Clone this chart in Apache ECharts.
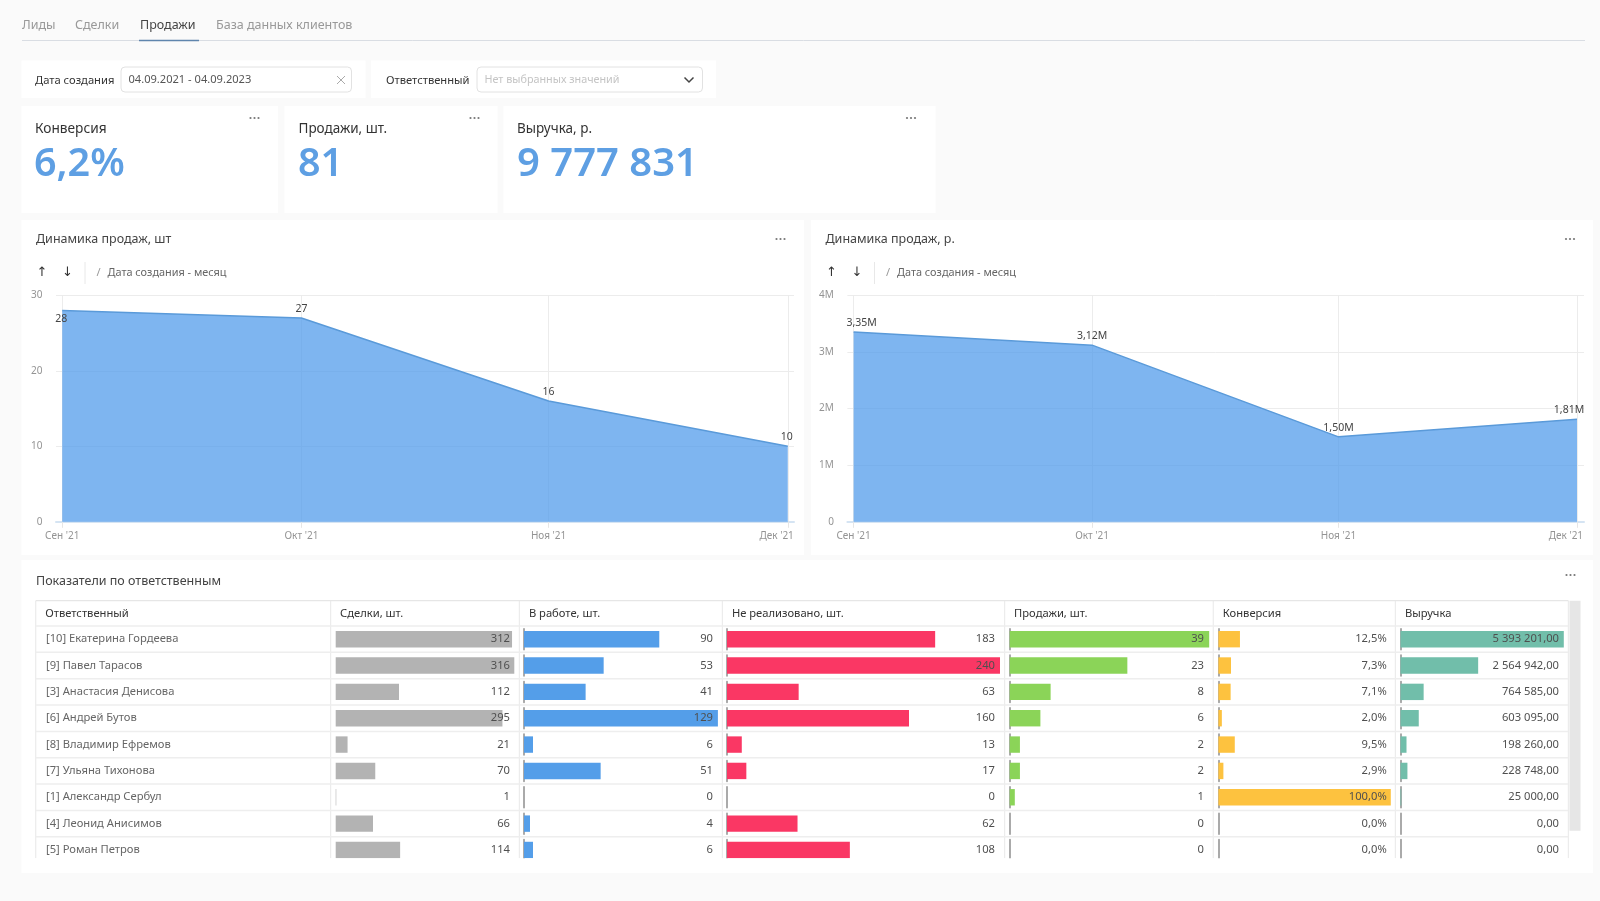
<!DOCTYPE html>
<html>
<head>
    <meta charset="utf-8">
    <title>Продажи</title>
    <script type="text/javascript" src="https://cdn.jsdelivr.net/npm/echarts@6/dist/echarts.min.js"></script>
    <style>
        html, body { margin: 0; padding: 0; background: #fafafa; }
    </style>
</head>
<body>
<div id="main" style="width: 1600px;height:901px;"></div>
<script type="text/javascript">
    // данные графиков
    var monthDays = [0, 30, 61, 91];
    var monthLabels = ["Сен '21", "Окт '21", "Ноя '21", "Дек '21"];
    var salesByMonth = [28, 27, 16, 10];
    var revenueByMonth = [3350000, 3120000, 1500000, 1810000];

    // данные таблицы
    var names = ['[10] Екатерина Гордеева', '[9] Павел Тарасов', '[3] Анастасия Денисова', '[6] Андрей Бутов',
        '[8] Владимир Ефремов', '[7] Ульяна Тихонова', '[1] Александр Сербул', '[4] Леонид Анисимов', '[5] Роман Петров'];
    var deals = [312, 316, 112, 295, 21, 70, 1, 66, 114];
    var inWork = [90, 53, 41, 129, 6, 51, 0, 4, 6];
    var notRealized = [183, 240, 63, 160, 13, 17, 0, 62, 108];
    var sales = [39, 23, 8, 6, 2, 2, 1, 0, 0];
    var conversion = [12.5, 7.3, 7.1, 2.0, 9.5, 2.9, 100, 0, 0];
    var revenue = [5393201, 2564942, 764585, 603095, 198260, 228748, 25000, 0, 0];
    var headers = ['Ответственный', 'Сделки, шт.', 'В работе, шт.', 'Не реализовано, шт.', 'Продажи, шт.', 'Конверсия', 'Выручка'];

    var FONT = '"Noto Sans", sans-serif';
    var ROW = 26.35;
    var TABLE_TOP = 626;
    var myChart = echarts.init(document.getElementById('main'));

    function spaced(v) {
        return String(v).replace(/\B(?=(\d{3})+(?!\d))/g, ' ');
    }

    // оформление дашборда: карточки, подписи, фильтры
    var g = [];
    function rect(x, y, w, h, fill, stroke, r, z) {
        g.push({type: 'rect', z: z === undefined ? -1 : z, silent: true,
            shape: {x: x, y: y, width: w, height: h, r: r || 0},
            style: {fill: fill, stroke: stroke || null, lineWidth: 1}});
    }
    function line(x1, y1, x2, y2, color, width) {
        g.push({type: 'line', z: 0, silent: true, shape: {x1: x1, y1: y1, x2: x2, y2: y2},
            style: {stroke: color, lineWidth: width || 1}});
    }
    function text(x, y, s, size, color, weight, family) {
        g.push({type: 'text', z: 6, silent: true, x: x, y: y,
            style: {text: s, fill: color, fontSize: size, fontWeight: weight || 400, fontFamily: family || FONT,
                verticalAlign: 'middle', align: 'left'}});
    }
    function dots(x, y) {
        [-4, 0, 4].forEach(function (d) {
            g.push({type: 'circle', z: 6, silent: true, shape: {cx: x + d, cy: y, r: 1.1}, style: {fill: '#777'}});
        });
    }

    // вкладки
    text(22, 25.5, 'Лиды', 12.5, '#999');
    text(75, 25.5, 'Сделки', 12.5, '#999');
    text(140, 25.5, 'Продажи', 12.5, '#444');
    text(216, 25.5, 'База данных клиентов', 12.5, '#999');
    line(22, 40.5, 1585, 40.5, '#d9dde3');
    line(139, 40.5, 199, 40.5, '#5f85ad', 1.5);

    // фильтры
    rect(21.5, 60.5, 344, 37.5, '#fff');
    rect(371, 60.5, 345, 37.5, '#fff');
    text(35, 80.5, 'Дата создания', 11.2, '#333');
    rect(121, 67, 230.5, 25, '#fff', '#e2e2e2', 4);
    text(128.5, 80, '04.09.2021 - 04.09.2023', 11.1, '#555');
    line(337, 76, 345, 84, '#aaa');
    line(345, 76, 337, 84, '#aaa');
    text(386, 80.5, 'Ответственный', 11.2, '#333');
    rect(477, 67, 225.5, 25, '#fff', '#e2e2e2', 4);
    text(484.5, 79.5, 'Нет выбранных значений', 10.8, '#c4c4c4');
    g.push({type: 'polyline', z: 6, silent: true, shape: {points: [[684.5, 77.5], [689, 82], [693.5, 77.5]]},
        style: {stroke: '#444', fill: null, lineWidth: 1.5}});

    // показатели
    rect(21.5, 106, 256.5, 107, '#fff');
    rect(284.5, 106, 213, 107, '#fff');
    rect(503.5, 106, 432, 107, '#fff');
    text(35, 129, 'Конверсия', 13.7, '#333');
    text(298.5, 129, 'Продажи, шт.', 13.5, '#333');
    text(517, 129, 'Выручка, р.', 13.5, '#333');
    text(34, 165, '6,2%', 39.5, '#5e9fe3', 600);
    text(298, 165, '81', 39.5, '#5e9fe3', 600);
    text(517, 165, spaced(9777831), 40, '#5e9fe3', 600);
    dots(254.5, 118);
    dots(474.5, 118);
    dots(911, 118);

    // карточки графиков
    function chartCard(x, w, title, dotX) {
        rect(x, 220, w, 335, '#fff');
        text(x + 14.5, 239.5, title, 12.5, '#444');
        dots(dotX, 239);
        g.push({type: 'text', z: 6, silent: true, x: x + 20.5, y: 272.5, style: {text: '↑', fill: '#333', fontSize: 13,
            fontFamily: 'DejaVu Sans', align: 'center', verticalAlign: 'middle'}});
        g.push({type: 'text', z: 6, silent: true, x: x + 46, y: 272.5, style: {text: '↓', fill: '#333', fontSize: 13,
            fontFamily: 'DejaVu Sans', align: 'center', verticalAlign: 'middle'}});
        line(x + 63.5, 262, x + 63.5, 284, '#e8e8e8');
        text(x + 75, 273, '/', 11, '#999');
        text(x + 86, 273, 'Дата создания - месяц', 10.9, '#666');
    }
    chartCard(21.5, 782.5, 'Динамика продаж, шт', 780.5);
    chartCard(811, 782, 'Динамика продаж, р.', 1570);

    // таблица
    rect(21.5, 560, 1571.5, 313, '#fff');
    text(36, 581, 'Показатели по ответственным', 12.5, '#444');
    dots(1570.5, 575);
    var colX = [35.7, 330.6, 519.4, 722.4, 1004.6, 1213.3, 1395.4, 1568.4];
    colX.forEach(function (x) {
        line(x, 600.7, x, 858.3, '#ececec', 1.2);
    });
    line(35.7, 600.7, 1568.4, 600.7, '#e6e6e6', 1.2);
    for (var i = 0; i < names.length; i++) {
        line(35.7, TABLE_TOP + i * ROW, 1568.4, TABLE_TOP + i * ROW, '#eeeeee', 1.5);
    }
    headers.forEach(function (h, idx) {
        text(colX[idx] + 9.5, 613.5, h, 11.2, '#333');
    });
    rect(1569.5, 600.7, 11, 230, '#e6e6e6', null, 0, 0);
    rect(22, 858.3, 1570, 14.5, '#fff', null, 0, 20);

    // сетки, оси и серии
    var grids = [], xAxes = [], yAxes = [], series = [];

    function addLineChart(left, right, extL, extR, maxV, interval, values, labelFn, yFormat, firstPos, offsets) {
        var gi = grids.length;
        grids.push({left: left, width: right - left, top: 295.3, height: 226.5});
        var labelDays = monthDays.slice();
        labelDays[3] = 89.6;
        xAxes.push({
            gridIndex: gi, type: 'value', min: -extL, max: 91 + extR,
            axisLine: {show: true, onZero: true, lineStyle: {color: '#d5e4f3', width: 2}},
            axisTick: {show: true, length: 6, customValues: monthDays, lineStyle: {color: '#e6e6e6'}},
            splitLine: {show: true, lineStyle: {color: '#ececec'}},
            axisLabel: {
                customValues: labelDays, color: '#949494', fontSize: 10, fontFamily: FONT, margin: 9,
                formatter: function (v) { return monthLabels[labelDays.indexOf(v)]; }
            }
        });
        yAxes.push({
            gridIndex: gi, type: 'value', min: 0, max: maxV, interval: interval,
            axisLine: {show: false}, axisTick: {show: false},
            splitLine: {lineStyle: {color: '#ececec'}},
            axisLabel: {color: '#949494', fontSize: 10, fontFamily: FONT, margin: 13.5, formatter: yFormat}
        });
        series.push({
            type: 'line', xAxisIndex: gi, yAxisIndex: gi, animation: false, silent: true, z: 3,
            symbol: 'circle', symbolSize: 1, itemStyle: {color: 'transparent'},
            lineStyle: {color: '#5a9ad9', width: 1.5},
            areaStyle: {color: '#539ceb', opacity: 0.75},
            data: values.map(function (v, k) {
                return {
                    value: [monthDays[k], v],
                    label: {position: k === 0 ? firstPos : 'top', offset: [offsets[k], 0]}
                };
            }),
            label: {show: true, color: '#444', fontSize: 10.5, fontFamily: FONT, distance: 3, formatter: labelFn}
        });
    }

    addLineChart(56, 794, 0.78, 0.78, 30, 10, salesByMonth,
        function (p) { return p.value[1]; },
        function (v) { return v; }, 'bottom', [-1, 0, 0, -1]);
    addLineChart(847.4, 1584, 0.78, 0.88, 4000000, 1000000, revenueByMonth,
        function (p) { return (p.value[1] / 1000000).toFixed(2).replace('.', ',') + 'M'; },
        function (v) { return v === 0 ? '0' : (v / 1000000) + 'M'; }, 'top', [8, 0, 0, -8]);

    function addBarColumn(left, width, textRight, values, maxV, color, fmt, baseline, showNames) {
        var gi = grids.length;
        grids.push({left: left, width: width, top: TABLE_TOP, height: ROW * names.length});
        xAxes.push({gridIndex: gi, type: 'value', min: 0, max: maxV, show: false});
        yAxes.push({
            gridIndex: gi, type: 'category', inverse: true, data: names,
            axisLine: {show: baseline, onZero: false, lineStyle: {color: '#8f8f8f', width: 1.5, type: [21, 5.35], dashOffset: 23.675}},
            axisTick: {show: false}, splitLine: {show: false},
            axisLabel: {
                show: showNames, interval: 0, align: 'left', margin: left - 46,
                color: '#666', fontSize: 11.2, fontFamily: FONT, padding: [1.5, 0, 0, 0]
            }
        });
        var nameAxis = yAxes.length - 1;
        yAxes.push({
            gridIndex: gi, type: 'category', inverse: true, position: 'right', z: 5,
            data: values.map(fmt),
            axisLine: {show: false}, axisTick: {show: false}, splitLine: {show: false},
            axisLabel: {
                interval: 0, inside: true, margin: left + width - textRight,
                color: '#4f4f4f', fontSize: 11.2, fontFamily: FONT, padding: [1, 0, 0, 0]
            }
        });
        series.push({
            type: 'bar', xAxisIndex: gi, yAxisIndex: nameAxis,
            animation: false, silent: true, barWidth: 16.4, z: 3,
            itemStyle: {color: color}, data: values
        });
    }

    function plain(v) { return String(v); }
    addBarColumn(335.7, 178.6, 510, deals, Math.max.apply(null, deals), '#b3b3b3', plain, false, true);
    addBarColumn(524, 193.9, 713, inWork, Math.max.apply(null, inWork), '#549ee9', plain, true, false);
    addBarColumn(727, 273, 995, notRealized, Math.max.apply(null, notRealized), '#fa3764', plain, true, false);
    addBarColumn(1009.7, 199.5, 1204, sales, Math.max.apply(null, sales), '#8bd458', plain, true, false);
    addBarColumn(1218.4, 172.4, 1386.7, conversion, 100, '#fdc23f',
        function (v) { return v.toFixed(1).replace('.', ',') + '%'; }, true, false);
    addBarColumn(1400.5, 163.3, 1559, revenue, Math.max.apply(null, revenue), '#71beaa',
        function (v) { return spaced(v) + ',00'; }, true, false);

    var option = {
        animation: false,
        backgroundColor: '#fafafa',
        textStyle: {fontFamily: FONT},
        graphic: {elements: g},
        grid: grids,
        xAxis: xAxes,
        yAxis: yAxes,
        series: series
    };

    myChart.setOption(option);
</script>
</body>
</html>
